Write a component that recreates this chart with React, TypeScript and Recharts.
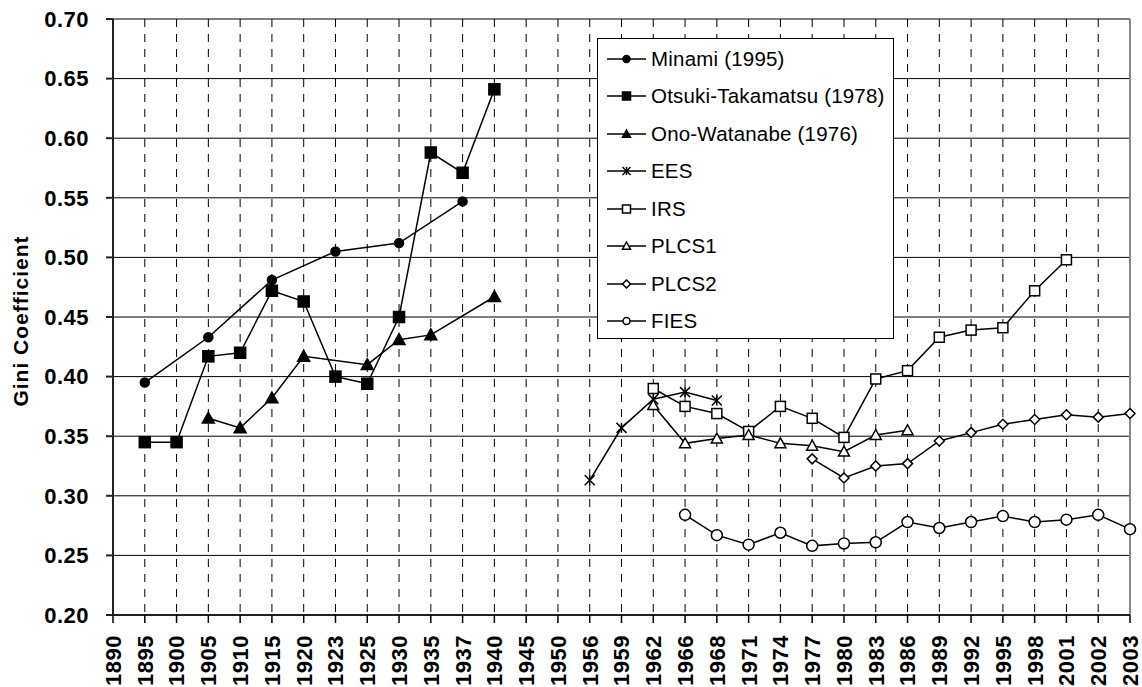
import { LineChart, Line, XAxis, YAxis, CartesianGrid, Legend, ReferenceLine } from "recharts";

const years = [
  "1890", "1895", "1900", "1905", "1910", "1915", "1920", "1923", "1925", "1930", "1935",
  "1937", "1940", "1945", "1950", "1956", "1959", "1962", "1966", "1968", "1971", "1974",
  "1977", "1980", "1983", "1986", "1989", "1992", "1995", "1998", "2001", "2002", "2003",
];

const yTicks = [0.2, 0.25, 0.3, 0.35, 0.4, 0.45, 0.5, 0.55, 0.6, 0.65, 0.7];

const minami: Record<string, number> = {
  "1895": 0.395, "1905": 0.433, "1915": 0.481, "1923": 0.505, "1930": 0.512, "1937": 0.547,
};
const otsukiTakamatsu: Record<string, number> = {
  "1895": 0.345, "1900": 0.345, "1905": 0.417, "1910": 0.42, "1915": 0.472, "1920": 0.463,
  "1923": 0.4, "1925": 0.394, "1930": 0.45, "1935": 0.588, "1937": 0.571, "1940": 0.641,
};
const onoWatanabe: Record<string, number> = {
  "1905": 0.365, "1910": 0.357, "1915": 0.382, "1920": 0.417, "1925": 0.41, "1930": 0.431,
  "1935": 0.435, "1940": 0.467,
};
const ees: Record<string, number> = {
  "1956": 0.313, "1959": 0.357, "1962": 0.381, "1966": 0.387, "1968": 0.38,
};
const irs: Record<string, number> = {
  "1962": 0.39, "1966": 0.375, "1968": 0.369, "1971": 0.354, "1974": 0.375, "1977": 0.365,
  "1980": 0.349, "1983": 0.398, "1986": 0.405, "1989": 0.433, "1992": 0.439, "1995": 0.441,
  "1998": 0.472, "2001": 0.498,
};
const plcs1: Record<string, number> = {
  "1962": 0.376, "1966": 0.344, "1968": 0.348, "1971": 0.351, "1974": 0.344, "1977": 0.342,
  "1980": 0.337, "1983": 0.351, "1986": 0.355,
};
const plcs2: Record<string, number> = {
  "1977": 0.331, "1980": 0.315, "1983": 0.325, "1986": 0.327, "1989": 0.346, "1992": 0.353,
  "1995": 0.36, "1998": 0.364, "2001": 0.368, "2002": 0.366, "2003": 0.369,
};
const fies: Record<string, number> = {
  "1966": 0.284, "1968": 0.267, "1971": 0.259, "1974": 0.269, "1977": 0.258, "1980": 0.26,
  "1983": 0.261, "1986": 0.278, "1989": 0.273, "1992": 0.278, "1995": 0.283, "1998": 0.278,
  "2001": 0.28, "2002": 0.284, "2003": 0.272,
};

type Shape = "circle" | "square" | "triangle" | "asterisk" | "diamond";

const series: { key: string; name: string; values: Record<string, number>; shape: Shape; filled: boolean; size: number }[] = [
  { key: "minami", name: "Minami (1995)", values: minami, shape: "circle", filled: true, size: 9 },
  { key: "otsuki", name: "Otsuki-Takamatsu (1978)", values: otsukiTakamatsu, shape: "square", filled: true, size: 11 },
  { key: "ono", name: "Ono-Watanabe (1976)", values: onoWatanabe, shape: "triangle", filled: true, size: 12 },
  { key: "ees", name: "EES", values: ees, shape: "asterisk", filled: true, size: 10 },
  { key: "irs", name: "IRS", values: irs, shape: "square", filled: false, size: 10 },
  { key: "plcs1", name: "PLCS1", values: plcs1, shape: "triangle", filled: false, size: 11 },
  { key: "plcs2", name: "PLCS2", values: plcs2, shape: "diamond", filled: false, size: 10 },
  { key: "fies", name: "FIES", values: fies, shape: "circle", filled: false, size: 11 },
];

const data = years.map((year) => {
  const row: Record<string, any> = { year };
  series.forEach((s) => {
    row[s.key] = s.values[year] ?? null;
  });
  return row;
});

const FONT = "'Liberation Sans', Arial, sans-serif";

function Marker({ shape, filled, cx, cy, size }: { shape: Shape; filled: boolean; cx: number; cy: number; size: number }) {
  const fill = filled ? "#000" : "#fff";
  const h = size / 2;
  const common = { fill, stroke: "#000", strokeWidth: 1.5 };
  switch (shape) {
    case "circle":
      return <circle cx={cx} cy={cy} r={h} {...common} />;
    case "square":
      return <rect x={cx - h} y={cy - h} width={size} height={size} {...common} />;
    case "triangle":
      return <polygon points={`${cx},${cy - h} ${cx + h},${cy + h * 0.8} ${cx - h},${cy + h * 0.8}`} {...common} />;
    case "diamond":
      return <polygon points={`${cx},${cy - h} ${cx + h},${cy} ${cx},${cy + h} ${cx - h},${cy}`} {...common} />;
    case "asterisk":
      return (
        <g stroke="#000" strokeWidth={1.5}>
          <line x1={cx - h} y1={cy - h} x2={cx + h} y2={cy + h} />
          <line x1={cx - h} y1={cy + h} x2={cx + h} y2={cy - h} />
          <line x1={cx} y1={cy - h} x2={cx} y2={cy + h} />
        </g>
      );
  }
  return null;
}

const makeDot = (shape: Shape, filled: boolean, size: number) => (props: any) => {
  const { cx, cy, index, value } = props;
  if (value == null || cx == null || cy == null) return <g key={index} />;
  return (
    <g key={index}>
      <Marker shape={shape} filled={filled} cx={cx} cy={cy} size={size} />
    </g>
  );
};

const XTick = ({ x, y, payload }: any) => (
  <text
    x={x}
    y={y}
    transform={`rotate(-90 ${x} ${y})`}
    textAnchor="end"
    dy="0.36em"
    fill="#000"
    fontSize={22}
    fontWeight={700}
    letterSpacing={0.5}
    fontFamily={FONT}
  >
    {payload.value}
  </text>
);

const YLabel = ({ viewBox }: any) => {
  const cx = viewBox.x + 20;
  const cy = viewBox.y + viewBox.height / 2 + 4;
  return (
    <text
      x={cx}
      y={cy}
      transform={`rotate(-90 ${cx} ${cy})`}
      textAnchor="middle"
      dy="0.36em"
      fill="#000"
      fontSize={21}
      fontWeight={700}
      letterSpacing={1}
      fontFamily={FONT}
    >
      Gini Coefficient
    </text>
  );
};

const LegendBox = () => (
  <div
    style={{
      width: 297,
      height: 301,
      border: "1px solid #000",
      background: "#fff",
      boxSizing: "border-box",
      paddingTop: 1,
      fontFamily: FONT,
    }}
  >
    {series.map((s) => (
      <div key={s.key} style={{ display: "flex", alignItems: "center", height: 37.5 }}>
        <svg width={53} height={20} style={{ flex: "none" }}>
          <line x1={9} x2={48} y1={10} y2={10} stroke="#000" strokeWidth={1.5} />
          <Marker shape={s.shape} filled={s.filled} cx={28.5} cy={10} size={s.shape === "circle" ? 7 : 8} />
        </svg>
        <span style={{ fontSize: 20.5, color: "#000", whiteSpace: "nowrap", letterSpacing: 0.2 }}>{s.name}</span>
      </div>
    ))}
  </div>
);

export default function App() {
  return (
    <div style={{ position: "absolute", left: 0, top: 0, background: "#fff", fontFamily: FONT }}>
      <LineChart width={1142} height={687} data={data} margin={{ top: 19, right: 12, bottom: 0, left: 0 }}>
        <CartesianGrid vertical={false} stroke="#000" strokeWidth={1} />
        <CartesianGrid horizontal={false} stroke="#000" strokeWidth={1} strokeDasharray="8 7" />
        <ReferenceLine x="2003" stroke="#888" strokeWidth={2} />
        <XAxis
          dataKey="year"
          type="category"
          scale="point"
          interval={0}
          padding={{ left: 0, right: 0 }}
          height={72}
          tickSize={8}
          tickMargin={12}
          stroke="#000"
          strokeWidth={1.5}
          tick={<XTick />}
        />
        <YAxis
          type="number"
          domain={[0.2, 0.7]}
          ticks={yTicks}
          width={113}
          tickSize={7}
          tickMargin={17}
          stroke="#222"
          strokeWidth={2}
          tickFormatter={(v: number) => v.toFixed(2)}
          tick={{ fill: "#000", fontSize: 22, fontWeight: 700, fontFamily: FONT, letterSpacing: 0.5 }}
          label={<YLabel />}
        />
        <Legend
          layout="vertical"
          align="center"
          verticalAlign="middle"
          wrapperStyle={{ left: 597, top: 38, width: 297 }}
          content={<LegendBox />}
        />
        {series.map((s) => (
          <Line
            key={s.key}
            dataKey={s.key}
            name={s.name}
            stroke="#000"
            strokeWidth={1.5}
            connectNulls
            isAnimationActive={false}
            activeDot={false}
            dot={makeDot(s.shape, s.filled, s.size)}
          />
        ))}
      </LineChart>
    </div>
  );
}
